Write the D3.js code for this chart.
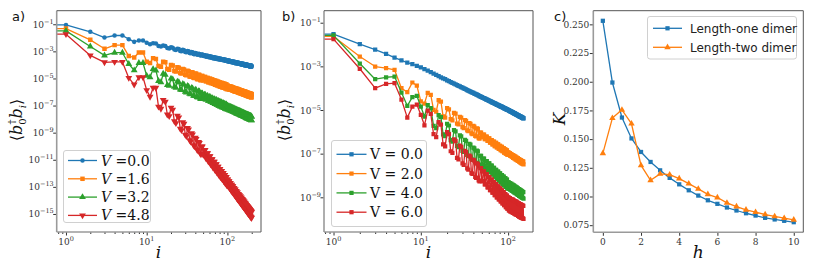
<!DOCTYPE html>
<html><head><meta charset="utf-8">
<script src="https://cdn.jsdelivr.net/npm/d3@7"></script>
<style>body{margin:0;background:#fff}svg{display:block}</style>
</head><body>
<svg id="c" width="814" height="272"></svg>
<script>
// ---------------- DATA ----------------
// panel a: site index i and log10 <b0^dag b_i>
const sitesA = d3.range(0, 201);
const logCorrA_V00 = [-0.74,-1.05,-1.56,-1.98,-1.83,-1.83,-2.10,-2.30,-2.20,-2.20,
-2.37,-2.47,-2.40,-2.42,-2.61,-2.65,-2.57,-2.60,-2.75,-2.79,
-2.70,-2.73,-2.87,-2.90,-2.80,-2.83,-2.97,-2.99,-2.89,-2.91,
-3.05,-3.07,-2.97,-2.99,-3.13,-3.14,-3.04,-3.06,-3.19,-3.21,
-3.12,-3.14,-3.23,-3.25,-3.18,-3.19,-3.29,-3.30,-3.23,-3.24,
-3.33,-3.35,-3.28,-3.29,-3.38,-3.39,-3.32,-3.33,-3.42,-3.43,
-3.36,-3.37,-3.46,-3.47,-3.40,-3.41,-3.50,-3.51,-3.43,-3.44,
-3.53,-3.54,-3.47,-3.48,-3.56,-3.57,-3.50,-3.51,-3.59,-3.60,
-3.53,-3.53,-3.61,-3.61,-3.56,-3.56,-3.64,-3.64,-3.58,-3.58,
-3.66,-3.66,-3.61,-3.61,-3.69,-3.69,-3.64,-3.64,-3.72,-3.72,
-3.66,-3.66,-3.74,-3.74,-3.68,-3.68,-3.76,-3.76,-3.71,-3.71,
-3.79,-3.79,-3.73,-3.73,-3.81,-3.81,-3.75,-3.75,-3.83,-3.83,
-3.77,-3.77,-3.85,-3.85,-3.79,-3.79,-3.87,-3.87,-3.80,-3.80,
-3.88,-3.88,-3.82,-3.82,-3.90,-3.90,-3.84,-3.84,-3.92,-3.92,
-3.86,-3.86,-3.94,-3.94,-3.87,-3.87,-3.95,-3.95,-3.89,-3.89,
-3.97,-3.97,-3.91,-3.91,-3.99,-3.99,-3.92,-3.92,-4.00,-4.00,
-3.94,-3.94,-4.02,-4.02,-3.95,-3.95,-4.03,-4.03,-3.96,-3.96,
-4.04,-4.04,-3.98,-3.98,-4.06,-4.06,-3.99,-3.99,-4.07,-4.07,
-4.00,-4.00,-4.08,-4.08,-4.02,-4.02,-4.10,-4.10,-4.03,-4.03,
-4.11,-4.11,-4.04,-4.04,-4.12,-4.12,-4.05,-4.05,-4.13,-4.13,
-4.07];
const logCorrA_V16 = [-0.90,-1.32,-2.15,-2.81,-2.54,-2.54,-3.35,-3.45,-3.08,-3.08,
-3.77,-3.86,-3.50,-3.57,-4.08,-4.14,-3.76,-3.81,-4.31,-4.36,
-4.00,-4.05,-4.45,-4.49,-4.17,-4.21,-4.60,-4.64,-4.31,-4.34,
-4.73,-4.76,-4.43,-4.46,-4.85,-4.87,-4.54,-4.56,-4.95,-4.97,
-4.63,-4.66,-5.04,-5.06,-4.72,-4.74,-5.12,-5.14,-4.82,-4.82,
-5.14,-5.14,-4.89,-4.89,-5.21,-5.21,-4.96,-4.96,-5.28,-5.28,
-5.02,-5.02,-5.34,-5.34,-5.08,-5.08,-5.40,-5.40,-5.14,-5.14,
-5.46,-5.46,-5.19,-5.19,-5.51,-5.51,-5.24,-5.24,-5.56,-5.56,
-5.29,-5.29,-5.61,-5.61,-5.33,-5.33,-5.65,-5.65,-5.37,-5.37,
-5.69,-5.69,-5.41,-5.41,-5.73,-5.73,-5.45,-5.45,-5.77,-5.77,
-5.53,-5.53,-5.77,-5.77,-5.57,-5.57,-5.81,-5.81,-5.60,-5.60,
-5.84,-5.84,-5.63,-5.63,-5.87,-5.87,-5.66,-5.66,-5.90,-5.90,
-5.70,-5.70,-5.94,-5.94,-5.73,-5.73,-5.97,-5.97,-5.75,-5.75,
-5.99,-5.99,-5.78,-5.78,-6.02,-6.02,-5.81,-5.81,-6.05,-6.05,
-5.84,-5.84,-6.08,-6.08,-5.86,-5.86,-6.10,-6.10,-5.89,-5.89,
-6.13,-6.13,-5.91,-5.91,-6.15,-6.15,-5.94,-5.94,-6.18,-6.18,
-5.96,-5.96,-6.20,-6.20,-5.98,-5.98,-6.22,-6.22,-6.00,-6.00,
-6.24,-6.24,-6.03,-6.03,-6.27,-6.27,-6.05,-6.05,-6.29,-6.29,
-6.07,-6.07,-6.31,-6.31,-6.09,-6.09,-6.33,-6.33,-6.11,-6.11,
-6.35,-6.35,-6.12,-6.12,-6.36,-6.36,-6.14,-6.14,-6.38,-6.38,
-6.16];
const logCorrA_V32 = [-1.00,-1.49,-2.64,-3.30,-3.10,-3.10,-3.93,-4.40,-3.86,-3.86,
-4.80,-4.91,-4.31,-4.41,-5.19,-5.28,-4.65,-4.72,-5.49,-5.55,
-5.01,-5.07,-5.62,-5.68,-5.23,-5.28,-5.82,-5.86,-5.41,-5.45,
-5.99,-6.03,-5.56,-5.60,-6.13,-6.17,-5.70,-5.73,-6.27,-6.30,
-5.83,-5.86,-6.38,-6.41,-5.94,-5.96,-6.49,-6.51,-6.11,-6.11,
-6.47,-6.47,-6.20,-6.20,-6.56,-6.56,-6.29,-6.29,-6.65,-6.65,
-6.37,-6.37,-6.73,-6.73,-6.45,-6.45,-6.81,-6.81,-6.52,-6.52,
-6.88,-6.88,-6.58,-6.58,-6.94,-6.94,-6.65,-6.65,-7.01,-7.01,
-6.71,-6.71,-7.07,-7.07,-6.77,-6.77,-7.13,-7.13,-6.82,-6.82,
-7.18,-7.18,-6.87,-6.87,-7.23,-7.23,-6.92,-6.92,-7.28,-7.28,
-7.01,-7.01,-7.29,-7.29,-7.06,-7.06,-7.34,-7.34,-7.10,-7.10,
-7.38,-7.38,-7.14,-7.14,-7.42,-7.42,-7.18,-7.18,-7.46,-7.46,
-7.22,-7.22,-7.50,-7.50,-7.26,-7.26,-7.54,-7.54,-7.30,-7.30,
-7.58,-7.58,-7.34,-7.34,-7.62,-7.62,-7.37,-7.37,-7.65,-7.65,
-7.40,-7.40,-7.68,-7.68,-7.44,-7.44,-7.72,-7.72,-7.47,-7.47,
-7.75,-7.75,-7.50,-7.50,-7.78,-7.78,-7.53,-7.53,-7.81,-7.81,
-7.56,-7.56,-7.84,-7.84,-7.59,-7.59,-7.87,-7.87,-7.62,-7.62,
-7.90,-7.90,-7.65,-7.65,-7.93,-7.93,-7.67,-7.67,-7.95,-7.95,
-7.70,-7.70,-7.98,-7.98,-7.73,-7.73,-8.01,-8.01,-7.75,-7.75,
-8.03,-8.03,-7.77,-7.77,-8.05,-8.05,-7.80,-7.80,-8.08,-8.08,
-7.82];
const logCorrA_V48 = [-1.20,-1.73,-3.30,-3.81,-3.78,-3.78,-4.96,-5.45,-4.91,-4.91,
-5.86,-6.35,-5.69,-5.69,-7.08,-7.24,-6.58,-6.72,-7.66,-7.78,
-7.15,-7.31,-8.15,-8.30,-7.74,-7.87,-8.70,-8.81,-8.23,-8.34,
-9.15,-9.26,-8.66,-8.77,-9.55,-9.65,-9.04,-9.13,-9.92,-10.00,
-9.38,-9.46,-10.24,-10.31,-9.68,-9.76,-10.53,-10.60,-10.02,-10.02,
-10.62,-10.62,-10.28,-10.28,-10.88,-10.88,-10.52,-10.52,-11.12,-11.12,
-10.74,-10.74,-11.34,-11.34,-10.95,-10.95,-11.55,-11.55,-11.15,-11.15,
-11.75,-11.75,-11.33,-11.33,-11.93,-11.93,-11.51,-11.51,-12.11,-12.11,
-11.68,-11.68,-12.28,-12.28,-11.83,-11.83,-12.43,-12.43,-11.98,-11.98,
-12.58,-12.58,-12.13,-12.13,-12.73,-12.73,-12.27,-12.27,-12.87,-12.87,
-12.45,-12.45,-12.95,-12.95,-12.59,-12.59,-13.09,-13.09,-12.71,-12.71,
-13.21,-13.21,-12.84,-12.84,-13.34,-13.34,-12.96,-12.96,-13.46,-13.46,
-13.08,-13.08,-13.58,-13.58,-13.19,-13.19,-13.69,-13.69,-13.30,-13.30,
-13.80,-13.80,-13.41,-13.41,-13.91,-13.91,-13.52,-13.52,-14.02,-14.02,
-13.61,-13.61,-14.11,-14.11,-13.71,-13.71,-14.21,-14.21,-13.80,-13.80,
-14.30,-14.30,-13.90,-13.90,-14.40,-14.40,-13.99,-13.99,-14.49,-14.49,
-14.08,-14.08,-14.58,-14.58,-14.16,-14.16,-14.66,-14.66,-14.24,-14.24,
-14.74,-14.74,-14.33,-14.33,-14.83,-14.83,-14.41,-14.41,-14.91,-14.91,
-14.48,-14.48,-14.98,-14.98,-14.56,-14.56,-15.06,-15.06,-14.63,-14.63,
-15.13,-15.13,-14.71,-14.71,-15.21,-15.21,-14.78,-14.78,-15.28,-15.28,
-14.85];
const labelsA = ["0.0", "1.6", "3.2", "4.8"];

// panel b
const sitesB = d3.range(0, 151);
const logCorrB_V0 = [-0.91,-1.52,-1.98,-2.23,-2.43,-2.60,-2.73,-2.83,-2.90,-2.98,
-3.05,-3.13,-3.20,-3.27,-3.33,-3.39,-3.45,-3.50,-3.55,-3.59,
-3.64,-3.68,-3.72,-3.76,-3.79,-3.83,-3.86,-3.89,-3.92,-3.95,
-3.98,-4.01,-4.03,-4.06,-4.09,-4.11,-4.13,-4.16,-4.18,-4.20,
-4.22,-4.25,-4.26,-4.28,-4.30,-4.32,-4.34,-4.36,-4.38,-4.40,
-4.41,-4.43,-4.45,-4.46,-4.48,-4.49,-4.51,-4.52,-4.54,-4.55,
-4.57,-4.58,-4.59,-4.61,-4.62,-4.64,-4.65,-4.66,-4.67,-4.69,
-4.70,-4.71,-4.72,-4.73,-4.75,-4.76,-4.77,-4.78,-4.79,-4.80,
-4.81,-4.82,-4.83,-4.84,-4.85,-4.86,-4.87,-4.88,-4.89,-4.90,
-4.91,-4.92,-4.93,-4.94,-4.95,-4.96,-4.97,-4.97,-4.98,-4.99,
-5.00,-5.01,-5.02,-5.03,-5.04,-5.05,-5.05,-5.06,-5.07,-5.08,
-5.09,-5.10,-5.11,-5.11,-5.12,-5.13,-5.14,-5.15,-5.15,-5.16,
-5.17,-5.18,-5.19,-5.19,-5.20,-5.21,-5.22,-5.22,-5.23,-5.24,
-5.25,-5.25,-5.26,-5.27,-5.28,-5.28,-5.29,-5.30,-5.30,-5.31,
-5.32,-5.32,-5.33,-5.34,-5.34,-5.35,-5.36,-5.36,-5.37,-5.37,
-5.38];
const logCorrB_V2 = [-0.95,-1.63,-2.55,-3.01,-3.08,-3.16,-4.00,-4.18,-3.74,-3.88,
-4.60,-4.71,-4.21,-4.31,-4.99,-5.08,-4.55,-4.62,-5.29,-5.35,
-4.91,-4.97,-5.42,-5.48,-5.13,-5.17,-5.62,-5.66,-5.31,-5.35,
-5.79,-5.83,-5.46,-5.50,-5.93,-5.97,-5.60,-5.63,-6.07,-6.10,
-5.73,-5.76,-6.18,-6.21,-5.84,-5.86,-6.29,-6.31,-6.04,-6.04,
-6.24,-6.24,-6.13,-6.13,-6.33,-6.33,-6.22,-6.22,-6.42,-6.42,
-6.30,-6.30,-6.50,-6.50,-6.38,-6.38,-6.58,-6.58,-6.45,-6.45,
-6.65,-6.65,-6.51,-6.51,-6.71,-6.71,-6.58,-6.58,-6.78,-6.78,
-6.64,-6.64,-6.84,-6.84,-6.69,-6.69,-6.89,-6.89,-6.75,-6.75,
-6.95,-6.95,-6.80,-6.80,-7.00,-7.00,-6.85,-6.85,-7.05,-7.05,
-6.94,-6.94,-7.06,-7.06,-6.98,-6.98,-7.10,-7.10,-7.02,-7.02,
-7.14,-7.14,-7.07,-7.07,-7.19,-7.19,-7.10,-7.10,-7.22,-7.22,
-7.14,-7.14,-7.26,-7.26,-7.18,-7.18,-7.30,-7.30,-7.21,-7.21,
-7.33,-7.33,-7.25,-7.25,-7.37,-7.37,-7.28,-7.28,-7.40,-7.40,
-7.31,-7.31,-7.43,-7.43,-7.34,-7.34,-7.46,-7.46,-7.37,-7.37,
-7.49];
const logCorrB_V4 = [-0.95,-1.58,-2.87,-3.59,-3.50,-3.47,-4.20,-4.81,-4.41,-4.35,
-4.84,-5.30,-4.78,-4.91,-5.73,-5.83,-5.23,-5.33,-6.12,-6.20,
-5.63,-5.71,-6.38,-6.45,-5.92,-5.98,-6.64,-6.70,-6.16,-6.21,
-6.87,-6.92,-6.37,-6.42,-7.06,-7.11,-6.55,-6.59,-7.24,-7.28,
-6.72,-6.76,-7.39,-7.43,-6.86,-6.90,-7.54,-7.57,-7.10,-7.10,
-7.50,-7.50,-7.23,-7.23,-7.63,-7.63,-7.34,-7.34,-7.74,-7.74,
-7.45,-7.45,-7.85,-7.85,-7.55,-7.55,-7.95,-7.95,-7.65,-7.65,
-8.05,-8.05,-7.74,-7.74,-8.14,-8.14,-7.82,-7.82,-8.22,-8.22,
-7.90,-7.90,-8.30,-8.30,-7.98,-7.98,-8.38,-8.38,-8.05,-8.05,
-8.45,-8.45,-8.12,-8.12,-8.52,-8.52,-8.19,-8.19,-8.59,-8.59,
-8.30,-8.30,-8.60,-8.60,-8.35,-8.35,-8.65,-8.65,-8.39,-8.39,
-8.69,-8.69,-8.43,-8.43,-8.73,-8.73,-8.47,-8.47,-8.77,-8.77,
-8.51,-8.51,-8.81,-8.81,-8.55,-8.55,-8.85,-8.85,-8.59,-8.59,
-8.89,-8.89,-8.63,-8.63,-8.93,-8.93,-8.66,-8.66,-8.96,-8.96,
-8.69,-8.69,-8.99,-8.99,-8.73,-8.73,-9.03,-9.03,-8.76,-8.76,
-9.06];
const logCorrB_V6 = [-1.00,-1.75,-3.11,-4.00,-3.80,-3.77,-4.52,-5.35,-4.85,-4.75,
-5.22,-5.70,-5.03,-5.18,-6.11,-6.24,-5.56,-5.67,-6.57,-6.67,
-6.01,-6.10,-6.89,-6.97,-6.35,-6.42,-7.19,-7.26,-6.63,-6.69,
-7.45,-7.51,-6.87,-6.93,-7.68,-7.73,-7.09,-7.14,-7.89,-7.93,
-7.28,-7.32,-8.07,-8.11,-7.45,-7.49,-8.23,-8.27,-7.66,-7.66,
-8.26,-8.26,-7.81,-7.81,-8.41,-8.41,-7.94,-7.94,-8.54,-8.54,
-8.07,-8.07,-8.67,-8.67,-8.19,-8.19,-8.79,-8.79,-8.30,-8.30,
-8.90,-8.90,-8.40,-8.40,-9.00,-9.00,-8.50,-8.50,-9.10,-9.10,
-8.59,-8.59,-9.19,-9.19,-8.68,-8.68,-9.28,-9.28,-8.76,-8.76,
-9.36,-9.36,-8.85,-8.85,-9.45,-9.45,-8.92,-8.92,-9.52,-9.52,
-9.00,-9.00,-9.60,-9.60,-9.04,-9.04,-9.64,-9.64,-9.08,-9.08,
-9.68,-9.68,-9.11,-9.11,-9.71,-9.71,-9.15,-9.15,-9.75,-9.75,
-9.18,-9.18,-9.78,-9.78,-9.21,-9.21,-9.81,-9.81,-9.25,-9.25,
-9.85,-9.85,-9.28,-9.28,-9.88,-9.88,-9.31,-9.31,-9.91,-9.91,
-9.34,-9.34,-9.94,-9.94,-9.36,-9.36,-9.96,-9.96,-9.39,-9.39,
-9.99];
const labelsB = ["0.0", "2.0", "4.0", "6.0"];

// panel c
const hValues = [0,0.5,1,1.5,2,2.5,3,3.5,4,4.5,5,5.5,6,6.5,7,7.5,8,8.5,9,9.5,10];
const K_lengthOne = [0.2531,0.1993,0.1688,0.1506,0.1388,0.1301,0.1228,0.1162,0.1106,0.1054,0.1008,0.0967,0.0936,0.0904,0.0878,0.0854,0.0834,0.0814,0.0800,0.0788,0.0776];
const K_lengthTwo = [0.1376,0.1683,0.1755,0.1634,0.1271,0.1141,0.1197,0.1190,0.1156,0.1112,0.1066,0.1019,0.0991,0.0944,0.0912,0.0884,0.0863,0.0843,0.0826,0.0811,0.0797];
const labelsC = ["Length-one dimer", "Length-two dimer"];

const xTickExpA = [0, 1, 2];
const yTickExpA = [-1, -3, -5, -7, -9, -11, -13, -15];
const xTickExpB = [0, 1, 2];
const yTickExpB = [-1, -3, -5, -7, -9];
const xTicksC = [0, 2, 4, 6, 8, 10];
const yTicksC = [0.075, 0.100, 0.125, 0.150, 0.175, 0.200, 0.225, 0.250];

// ---------------- DRAWING ----------------
const COLORS = ['#1f77b4', '#ff7f0e', '#2ca02c', '#d62728'];
const SERIF = "'DejaVu Serif', 'Liberation Serif', serif";
const SANS = "'DejaVu Sans', sans-serif";
const svg = d3.select('#c');
svg.append('rect').attr('width', 814).attr('height', 272).attr('fill', '#fff');

function markerPath(type, size) {
  const sym = {circle: d3.symbolCircle, square: d3.symbolSquare, tri: d3.symbolTriangle, tridown: d3.symbolTriangle}[type];
  return d3.symbol().type(sym).size(size)();
}

function drawSeries(g, pts, color, mtype, msize) {
  g.append('path').datum(pts)
    .attr('d', d3.line().x(d => d[0]).y(d => d[1]))
    .attr('fill', 'none').attr('stroke', color).attr('stroke-width', 1.3).attr('stroke-linejoin', 'round');
  const mp = markerPath(mtype, msize);
  g.selectAll(null).data(pts).enter().append('path')
    .attr('d', mp)
    .attr('transform', d => `translate(${d[0]},${d[1]})` + (mtype === 'tridown' ? ' rotate(180)' : ''))
    .attr('fill', color).attr('stroke', 'none');
}

function powLabel(g, x, y, exp, anchor) {
  const t = g.append('text').attr('x', x).attr('y', y)
    .attr('text-anchor', anchor).attr('font-family', SERIF).attr('fill', '#333');
  t.append('tspan').attr('font-size', 9).text('10');
  t.append('tspan').attr('font-size', 6.5).attr('dy', -4).text(exp < 0 ? '\u2212' + (-exp) : String(exp));
}

function frame(g, b) {
  g.append('line').attr('x1', b.left).attr('x2', b.left).attr('y1', b.top).attr('y2', b.bottom).attr('stroke', '#9a9a9a').attr('stroke-width', 1.6);
  g.append('line').attr('x1', b.left).attr('x2', b.right).attr('y1', b.bottom).attr('y2', b.bottom).attr('stroke', '#9a9a9a').attr('stroke-width', 1.6);
  g.append('line').attr('x1', b.left).attr('x2', b.right).attr('y1', b.top).attr('y2', b.top).attr('stroke', '#555').attr('stroke-width', 1);
  g.append('line').attr('x1', b.right).attr('x2', b.right).attr('y1', b.top).attr('y2', b.bottom).attr('stroke', '#555').attr('stroke-width', 1);
}

function logPanel(cfg) {
  const g = svg.append('g');
  const b = cfg.box;
  const x = d3.scaleLog().domain(cfg.xDom).range([b.left, b.right]);
  const y = d3.scaleLog().domain(cfg.yDom).range([b.bottom, b.top]);
  const cid = 'clip' + cfg.id;
  svg.append('clipPath').attr('id', cid).append('rect')
    .attr('x', b.left).attr('y', b.top).attr('width', b.right - b.left).attr('height', b.bottom - b.top);
  const plot = g.append('g').attr('clip-path', `url(#${cid})`);
  const xpos = i => i > 0 ? x(i) : x(1e-300);
  cfg.series.forEach((s, k) => {
    const pts = cfg.sites.map((i, j) => [xpos(i), y(Math.pow(10, s[j]))]);
    drawSeries(plot, pts, COLORS[k], cfg.markers[k], cfg.msize[k]);
  });
  // axes (ticks) through d3 axis
  const xMajor = cfg.xTickExp.map(e => Math.pow(10, e));
  const xMinor = [];
  [-1, 0, 1, 2].forEach(e => { for (let m = 2; m <= 9; m++) { const v = m * Math.pow(10, e); if (v >= cfg.xDom[0] && v <= cfg.xDom[1]) xMinor.push(v); } });
  g.append('g').attr('transform', `translate(0,${b.bottom})`)
    .call(d3.axisBottom(x).tickValues(xMajor).tickSize(3.5).tickFormat(''))
    .call(a => a.select('.domain').remove()).selectAll('line').attr('stroke', '#333');
  g.append('g').attr('transform', `translate(0,${b.bottom})`)
    .call(d3.axisBottom(x).tickValues(xMinor).tickSize(2).tickFormat(''))
    .call(a => a.select('.domain').remove()).selectAll('line').attr('stroke', '#333');
  const yMajor = cfg.yTickExp.map(e => Math.pow(10, e));
  g.append('g').attr('transform', `translate(${b.left},0)`)
    .call(d3.axisLeft(y).tickValues(yMajor).tickSize(3.5).tickFormat(''))
    .call(a => a.select('.domain').remove()).selectAll('line').attr('stroke', '#333');
  cfg.xTickExp.forEach(e => powLabel(g, x(Math.pow(10, e)), b.bottom + 13, e, 'middle'));
  cfg.yTickExp.forEach(e => powLabel(g, b.left - 3, y(Math.pow(10, e)) + 3.5, e, 'end'));
  frame(g, b);
  return {g, x, y};
}

function yLabelCorr(g, cx, cy) {
  const t = g.append('text').attr('transform', `translate(${cx},${cy}) rotate(-90)`)
    .attr('text-anchor', 'middle').attr('font-family', SERIF).attr('font-size', 16).attr('fill', '#111');
  t.append('tspan').text('\u27E8');
  t.append('tspan').attr('font-style', 'italic').text('b');
  t.append('tspan').attr('font-size', 10).attr('dy', 4).text('0');
  t.append('tspan').attr('font-size', 10).attr('dx', -6).attr('dy', -11).text('\u2020');
  t.append('tspan').attr('font-style', 'italic').attr('dy', 7).attr('dx', 1).text('b');
  t.append('tspan').attr('font-style', 'italic').attr('font-size', 10).attr('dy', 4).text('i');
  t.append('tspan').attr('dy', -4).text('\u27E9');
}

function xLabelItalic(g, cx, y, s) {
  g.append('text').attr('x', cx).attr('y', y).attr('text-anchor', 'middle')
    .attr('font-family', SERIF).attr('font-style', 'italic').attr('font-size', 17).attr('fill', '#111').text(s);
}

function panelLetter(x, y, s) {
  svg.append('text').attr('x', x).attr('y', y).attr('font-family', SANS).attr('font-size', 13).attr('fill', '#111').text(s);
}

function legendBox(g, r) {
  g.append('rect').attr('x', r.x).attr('y', r.y).attr('width', r.w).attr('height', r.h)
    .attr('rx', 2.5).attr('fill', '#fff').attr('fill-opacity', 0.85).attr('stroke', '#d0d0d0').attr('stroke-width', 1);
}

function legendEntry(g, x0, x1, yy, color, mtype, msize) {
  g.append('line').attr('x1', x0).attr('x2', x1).attr('y1', yy).attr('y2', yy).attr('stroke', color).attr('stroke-width', 1.3);
  g.append('path').attr('d', markerPath(mtype, msize))
    .attr('transform', `translate(${(x0 + x1) / 2},${yy})` + (mtype === 'tridown' ? ' rotate(180)' : ''))
    .attr('fill', color);
}

// ---- Panel a ----
const A = logPanel({
  id: 'a', box: {left: 56.7, right: 261, top: 10.7, bottom: 232},
  xDom: [Math.pow(10, -0.115), Math.pow(10, 2.416)], yDom: [Math.pow(10, -16.33), 1],
  sites: sitesA, series: [logCorrA_V00, logCorrA_V16, logCorrA_V32, logCorrA_V48],
  markers: ['circle', 'square', 'tri', 'tridown'], msize: [16, 20, 20, 20],
  xTickExp: xTickExpA, yTickExp: yTickExpA
});
yLabelCorr(A.g, 22, 120);
xLabelItalic(A.g, 158.5, 258, 'i');
panelLetter(12, 21, 'a)');
{
  const lg = A.g.append('g');
  legendBox(lg, {x: 63.5, y: 150.5, w: 87, h: 72});
  const mk = ['circle', 'square', 'tri', 'tridown'];
  labelsA.forEach((lab, k) => {
    const yy = 160.5 + k * 18.3;
    legendEntry(lg, 68, 97, yy, COLORS[k], mk[k], k === 0 ? 16 : 20);
    const t = lg.append('text').attr('x', 101).attr('y', yy + 5).attr('font-family', SERIF).attr('font-size', 14).attr('fill', '#111');
    t.append('tspan').attr('font-style', 'italic').text('V');
    t.append('tspan').text(' =' + lab);
  });
}

// ---- Panel b ----
const B = logPanel({
  id: 'b', box: {left: 324, right: 533, top: 10.7, bottom: 232},
  xDom: [Math.pow(10, -0.109), Math.pow(10, 2.285)], yDom: [Math.pow(10, -10.59), Math.pow(10, -0.45)],
  sites: sitesB, series: [logCorrB_V0, logCorrB_V2, logCorrB_V4, logCorrB_V6],
  markers: ['square', 'square', 'square', 'square'], msize: [18, 18, 18, 18],
  xTickExp: xTickExpB, yTickExp: yTickExpB
});
yLabelCorr(B.g, 290, 120);
xLabelItalic(B.g, 428.5, 258, 'i');
panelLetter(282, 21, 'b)');
{
  const lg = B.g.append('g');
  legendBox(lg, {x: 331.5, y: 140.5, w: 95, h: 86});
  labelsB.forEach((lab, k) => {
    const yy = 154.3 + k * 19.3;
    legendEntry(lg, 336.5, 366.5, yy, COLORS[k], 'square', 18);
    lg.append('text').attr('x', 370).attr('y', yy + 5).attr('font-family', SERIF).attr('font-size', 14).attr('fill', '#111').text('V = ' + lab);
  });
}

// ---- Panel c ----
{
  const g = svg.append('g');
  const b = {left: 593.3, right: 803.3, top: 10.7, bottom: 232.3};
  const x = d3.scaleLinear().domain([-0.5, 10.5]).range([b.left, b.right]);
  const y = d3.scaleLinear().domain([0.0688, 0.2619]).range([b.bottom, b.top]);
  const s1 = hValues.map((h, j) => [x(h), y(K_lengthOne[j])]);
  const s2 = hValues.map((h, j) => [x(h), y(K_lengthTwo[j])]);
  drawSeries(g, s1, COLORS[0], 'square', 18);
  drawSeries(g, s2, COLORS[1], 'tri', 18);
  g.append('g').attr('transform', `translate(0,${b.bottom})`)
    .call(d3.axisBottom(x).tickValues(xTicksC).tickSize(3.5).tickFormat(''))
    .call(a => a.select('.domain').remove()).selectAll('line').attr('stroke', '#333');
  g.append('g').attr('transform', `translate(${b.left},0)`)
    .call(d3.axisLeft(y).tickValues(yTicksC).tickSize(3.5).tickFormat(''))
    .call(a => a.select('.domain').remove()).selectAll('line').attr('stroke', '#333');
  xTicksC.forEach(v => g.append('text').attr('x', x(v)).attr('y', b.bottom + 13).attr('text-anchor', 'middle')
    .attr('font-family', SERIF).attr('font-size', 9).attr('fill', '#333').text(d3.format('d')(v)));
  yTicksC.forEach(v => g.append('text').attr('x', b.left - 4).attr('y', y(v) + 3.2).attr('text-anchor', 'end')
    .attr('font-family', SERIF).attr('font-size', 9).attr('fill', '#333').text(d3.format('.3f')(v)));
  frame(g, b);
  g.append('text').attr('transform', `translate(565,119) rotate(-90)`).attr('text-anchor', 'middle')
    .attr('font-family', SERIF).attr('font-style', 'italic').attr('font-size', 17).attr('fill', '#111').text('K');
  xLabelItalic(g, 698.3, 258, 'h');
  panelLetter(554, 21, 'c)');
  const lg = g.append('g');
  legendBox(lg, {x: 647.5, y: 16.5, w: 149, h: 42.5});
  const mk = ['square', 'tri'];
  labelsC.forEach((lab, k) => {
    const yy = 28.3 + k * 19;
    legendEntry(lg, 653, 682, yy, COLORS[k], mk[k], 18);
    lg.append('text').attr('x', 690).attr('y', yy + 4.5).attr('font-family', SANS).attr('font-size', 12).attr('fill', '#222').text(lab);
  });
}
</script>
</body></html>
